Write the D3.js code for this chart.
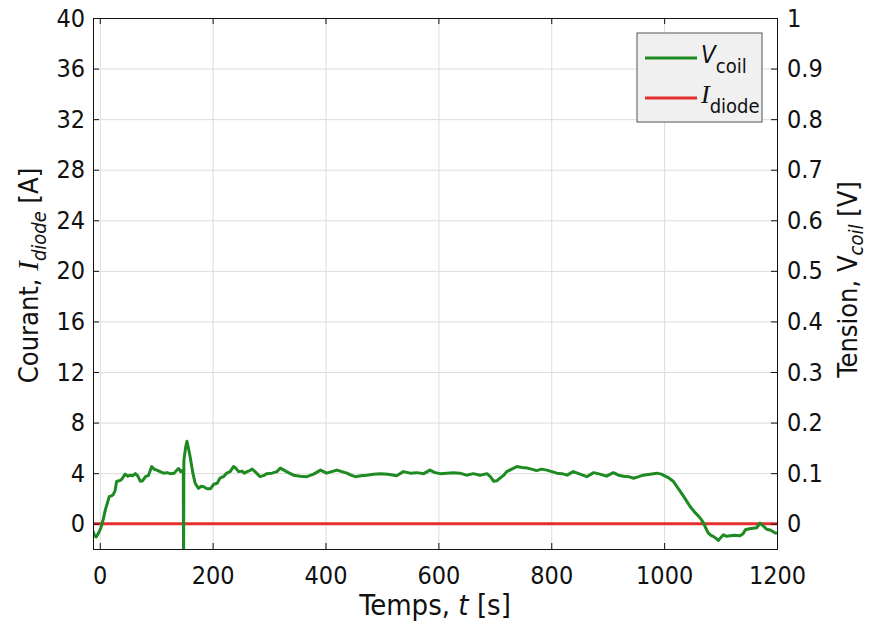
<!DOCTYPE html>
<html>
<head>
<meta charset="utf-8">
<script src="https://cdn.jsdelivr.net/npm/d3@7"></script>
<style>
  body { margin: 0; background: #fff; }
  svg text { font-family: "DejaVu Sans Condensed", "DejaVu Sans", sans-serif; fill: #111; }
</style>
</head>
<body>
<div id="chart"></div>
<script>
// ---- data ----
const xTicks = [0, 200, 400, 600, 800, 1000, 1200];
const leftTicks = [0, 4, 8, 12, 16, 20, 24, 28, 32, 36, 40];
const rightTicks = [0, 0.1, 0.2, 0.3, 0.4, 0.5, 0.6, 0.7, 0.8, 0.9, 1];

// V_coil [V] vs time [s]
const coilTime = [-12, -9, -6, -2, 2, 6, 10, 14, 17, 21, 24, 27, 30, 35, 39, 42, 45, 50, 54, 58,
  63, 67, 72, 76, 81, 86, 92, 96, 101, 107, 113, 119, 125, 132, 138, 140, 143, 146, 148, 148.5,
  149, 152, 154.5, 157, 160, 165, 169, 175, 180, 184, 190, 196, 202, 208, 213, 219, 225, 231, 237, 241,
  246, 252, 256, 261, 266, 270, 277, 284, 290, 296, 305, 314, 320, 331, 343, 355, 367, 379, 391, 402,
  411, 420, 429, 438, 445, 453, 463, 473, 485, 497, 511, 526, 538, 550, 562, 574, 585, 594, 603, 615,
  627, 638, 650, 662, 674, 686, 692, 698, 704, 709, 715, 721, 730, 739, 748, 757, 765, 774, 783, 792,
  801, 810, 819, 828, 839, 851, 863, 875, 886, 898, 910, 919, 928, 937, 946, 955, 963, 975, 987, 995,
  1002, 1009, 1016, 1023, 1031, 1038, 1046, 1054, 1061, 1066, 1070, 1074, 1078, 1083, 1087, 1092, 1096, 1100, 1105, 1111,
  1117, 1125, 1134, 1140, 1144, 1151, 1158, 1164, 1170, 1176, 1182, 1189, 1196, 1200];
const coilVolt = [-0.015, -0.024, -0.026, -0.018, -0.008, 0.008, 0.028, 0.043, 0.054, 0.055, 0.058, 0.065, 0.084, 0.085, 0.088, 0.093, 0.098, 0.094, 0.096, 0.095,
  0.099, 0.095, 0.084, 0.085, 0.093, 0.095, 0.113, 0.108, 0.106, 0.103, 0.100, 0.101, 0.099, 0.100, 0.108, 0.109, 0.103, 0.105, 0.100, -0.075,
  0.125, 0.150, 0.163, 0.150, 0.133, 0.100, 0.080, 0.070, 0.074, 0.073, 0.069, 0.069, 0.078, 0.080, 0.090, 0.093, 0.100, 0.103, 0.113, 0.110,
  0.103, 0.104, 0.100, 0.103, 0.105, 0.108, 0.101, 0.093, 0.095, 0.099, 0.100, 0.103, 0.110, 0.103, 0.096, 0.094, 0.093, 0.098, 0.106, 0.100,
  0.103, 0.106, 0.103, 0.100, 0.096, 0.093, 0.095, 0.096, 0.098, 0.099, 0.098, 0.095, 0.103, 0.100, 0.101, 0.099, 0.106, 0.101, 0.099, 0.100,
  0.101, 0.100, 0.096, 0.099, 0.096, 0.099, 0.093, 0.084, 0.085, 0.090, 0.095, 0.103, 0.108, 0.113, 0.111, 0.110, 0.108, 0.105, 0.108, 0.106,
  0.103, 0.100, 0.099, 0.096, 0.103, 0.098, 0.093, 0.101, 0.098, 0.094, 0.101, 0.096, 0.094, 0.093, 0.090, 0.093, 0.096, 0.098, 0.100, 0.098,
  0.094, 0.090, 0.084, 0.073, 0.060, 0.048, 0.034, 0.023, 0.015, 0.008, 0.001, -0.009, -0.018, -0.023, -0.025, -0.029, -0.033, -0.028, -0.022, -0.025,
  -0.024, -0.023, -0.024, -0.020, -0.012, -0.010, -0.009, -0.008, 0.001, -0.005, -0.011, -0.013, -0.018, -0.019];

// I_diode [A] vs time [s]
const diodeTime = [-12, 200, 400, 600, 800, 1000, 1200];
const diodeAmp = [0, 0, 0, 0, 0, 0, 0];

const W = 871, H = 623;
const m = { left: 93, right: 94, top: 18, bottom: 74 };
const iw = W - m.left - m.right, ih = H - m.top - m.bottom;

const x = d3.scaleLinear().domain([-12, 1200]).range([0, iw]);
const yL = d3.scaleLinear().domain([-2, 40]).range([ih, 0]);
const yR = d3.scaleLinear().domain([-0.05, 1]).range([ih, 0]);

const svg = d3.select('#chart').append('svg').attr('width', W).attr('height', H);
const g = svg.append('g').attr('transform', `translate(${m.left},${m.top})`);

svg.append('defs').append('clipPath').attr('id', 'plot')
  .append('rect').attr('width', iw).attr('height', ih);

// grid
g.append('g').attr('class', 'grid')
  .attr('transform', `translate(0,${ih})`)
  .call(d3.axisBottom(x).tickValues(xTicks).tickSize(-ih).tickFormat(''))
  .call(s => s.select('.domain').remove());
g.append('g').attr('class', 'grid')
  .call(d3.axisLeft(yL).tickValues(leftTicks).tickSize(-iw).tickFormat(''))
  .call(s => s.select('.domain').remove());
g.selectAll('.grid line').attr('stroke', '#dcdcdc').attr('stroke-width', 1);

// lines
const lineCoil = d3.line().x(d => x(d[0])).y(d => yR(d[1]));
const lineDiode = d3.line().x(d => x(d[0])).y(d => yL(d[1]));
const plot = g.append('g').attr('clip-path', 'url(#plot)');
plot.append('path')
  .datum(d3.zip(diodeTime, diodeAmp))
  .attr('d', lineDiode)
  .attr('fill', 'none').attr('stroke', '#e3302c').attr('stroke-width', 3);
plot.append('path')
  .datum(d3.zip(coilTime, coilVolt))
  .attr('d', lineCoil)
  .attr('fill', 'none').attr('stroke', '#1d8a22').attr('stroke-width', 3)
  .attr('stroke-linejoin', 'round');

// axes
const fs = '25px';
g.append('g').attr('transform', `translate(0,${ih})`)
  .call(d3.axisBottom(x).tickValues(xTicks).tickSize(-6).tickPadding(17).tickFormat(d3.format('d')))
  .call(s => s.selectAll('text').style('font-size', fs));
g.append('g')
  .call(d3.axisTop(x).tickValues(xTicks).tickSize(-6).tickFormat(''));
g.append('g')
  .call(d3.axisLeft(yL).tickValues(leftTicks).tickSize(-6).tickPadding(8))
  .call(s => s.selectAll('text').style('font-size', fs));
g.append('g').attr('transform', `translate(${iw},0)`)
  .call(d3.axisRight(yR).tickValues(rightTicks).tickSize(-6).tickPadding(10).tickFormat(d3.format('')))
  .call(s => s.selectAll('text').style('font-size', fs));
g.selectAll('.domain').attr('stroke', '#111');
g.selectAll('.tick line').filter(function(){ return !this.closest('.grid'); }).attr('stroke', '#111');

// axis titles
const xt = svg.append('text')
  .attr('x', m.left + iw / 2).attr('y', 615)
  .attr('text-anchor', 'middle').style('font-size', '29px');
xt.append('tspan').text('Temps, ');
xt.append('tspan').attr('font-style', 'italic').text('t');
xt.append('tspan').text(' [s]');

const lt = svg.append('text')
  .attr('transform', `translate(38,${m.top + ih / 2 - 8}) rotate(-90)`)
  .attr('text-anchor', 'middle').style('font-size', '27px');
lt.append('tspan').text('Courant, ');
lt.append('tspan').attr('font-style', 'italic').style('font-family', '"Liberation Serif", serif').style('font-size', '29px').text('I');
lt.append('tspan').attr('font-style', 'italic').attr('dy', 8).style('font-size', '20px').text('diode');
lt.append('tspan').attr('dy', -8).text('  [A]');

const rt = svg.append('text')
  .attr('transform', `translate(857,${m.top + ih / 2 - 4}) rotate(-90)`)
  .attr('text-anchor', 'middle').style('font-size', '27px');
rt.append('tspan').text('Tension, V');
rt.append('tspan').attr('font-style', 'italic').attr('dy', 6).style('font-size', '20px').text('coil');
rt.append('tspan').attr('dy', -6).text(' [V]');

// legend
const lg = svg.append('g').attr('transform', 'translate(637,33)');
lg.append('rect').attr('width', 125).attr('height', 89)
  .attr('fill', '#f0f0f0').attr('stroke', '#555').attr('stroke-width', 1);
const entries = [
  { name: 'V', sub: 'coil', color: '#1d8a22', serif: false },
  { name: 'I', sub: 'diode', color: '#e3302c', serif: true }
];
entries.forEach((e, i) => {
  const yy = 25 + i * 40;
  lg.append('line').attr('x1', 8).attr('x2', 60).attr('y1', yy).attr('y2', yy)
    .attr('stroke', e.color).attr('stroke-width', 3);
  const t = lg.append('text').attr('x', 64).attr('y', yy + 5);
  t.append('tspan').attr('font-style', 'italic')
    .style('font-family', e.serif ? '"Liberation Serif", serif' : null)
    .style('font-size', e.serif ? '26px' : '24px').text(e.name);
  t.append('tspan').attr('dy', 10).style('font-size', '20px').text(e.sub);
});
</script>
</body>
</html>
